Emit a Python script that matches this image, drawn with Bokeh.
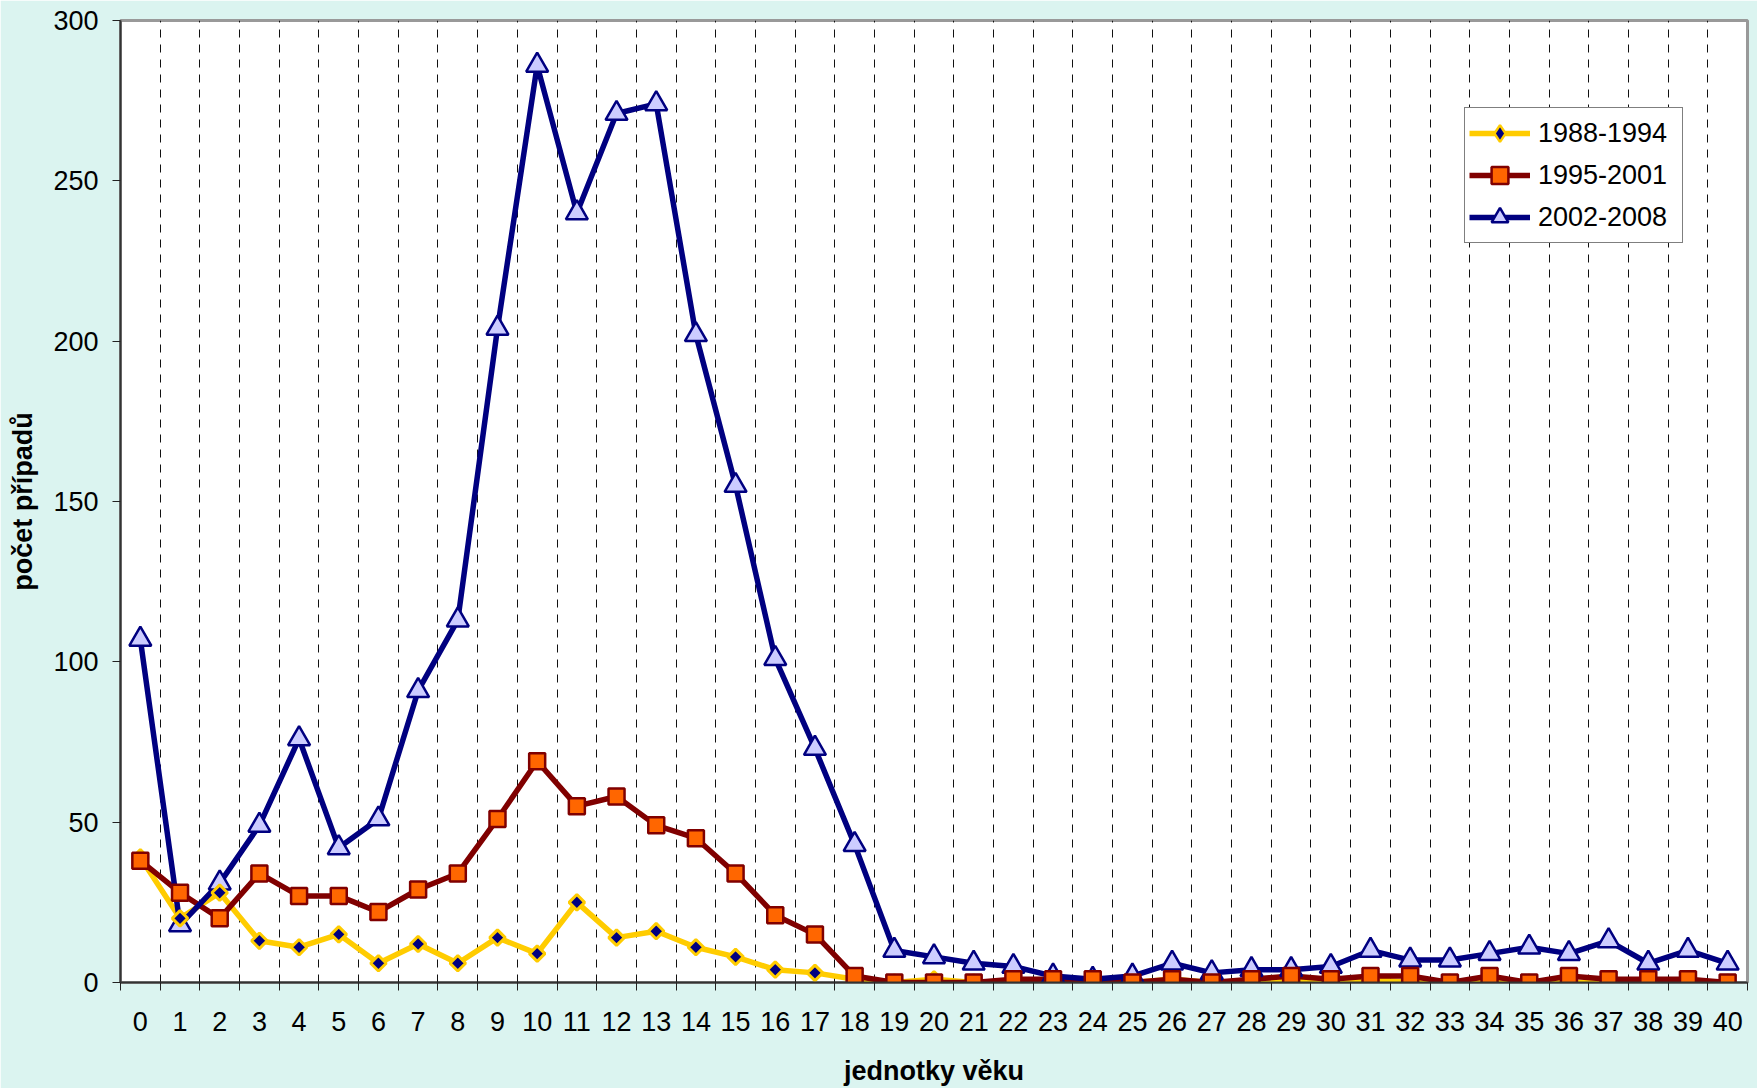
from bokeh.plotting import figure
from bokeh.models import Range1d, FixedTicker, Legend, LegendItem
from bokeh.embed import file_html
from bokeh.resources import INLINE
import numpy as np

# ---- data ----
ages = list(range(41))
s_1988_1994 = [39, 20, 28, 13, 11, 15, 6, 12, 6, 14, 9, 25, 14, 16, 11, 8, 4, 3, 1, 0,
               1, 0, 0, 1, 0, 0, 1, 0, 0, 1, 1, 1, 0, 0, 0, 0, 0, 0, 0, 0, 0]
s_1995_2001 = [38, 28, 20, 34, 27, 27, 22, 29, 34, 51, 69, 55, 58, 49, 45, 34, 21, 15, 2, 0,
               0, 0, 1, 1, 1, 0, 1, 0, 1, 2, 1, 2, 2, 0, 2, 0, 2, 1, 1, 1, 0]
s_2002_2008 = [107, 18, 31, 49, 76, 42, 51, 91, 113, 204, 286, 240, 271, 274, 202, 155, 101, 73, 43, 10,
               8, 6, 5, 2, 1, 2, 6, 3, 4, 4, 5, 10, 7, 7, 9, 11, 9, 13, 6, 10, 6]
series_labels = ["1988-1994", "1995-2001", "2002-2008"]
y_ticks = [0, 50, 100, 150, 200, 250, 300]
x_title = "jednotky věku"
y_title = "počet případů"

BG = "#DBF4F0"
FONT = "Liberation Sans"
bounds = [a - 0.5 for a in range(42)]

p = figure(width=1757, height=1088, output_backend="svg", toolbar_location=None,
           x_range=Range1d(-0.5, 40.5), y_range=Range1d(0, 300),
           min_border_left=120, min_border_right=10, min_border_top=20, min_border_bottom=106,
           background_fill_color="white", border_fill_color=BG)
p.outline_line_color = "#999999"
p.outline_line_width = 3

# axes
p.xaxis.ticker = FixedTicker(ticks=ages, minor_ticks=bounds)
p.xaxis.major_tick_out = 0
p.xaxis.major_tick_in = 0
p.xaxis.minor_tick_out = 8
p.xaxis.minor_tick_in = 0
p.xaxis.minor_tick_line_color = "#222222"
p.xaxis.minor_tick_line_width = 1
p.xaxis.axis_line_color = "#333333"
p.xaxis.axis_line_width = 2
p.xaxis.major_label_standoff = 21
p.xaxis.major_label_text_font = FONT
p.xaxis.major_label_text_font_size = "27px"
p.xaxis.major_label_text_color = "black"
p.xaxis.axis_label = x_title
p.xaxis.axis_label_text_font = FONT
p.xaxis.axis_label_text_font_size = "27px"
p.xaxis.axis_label_text_font_style = "bold"
p.xaxis.axis_label_text_color = "black"
p.xaxis.axis_label_standoff = 22

p.yaxis.ticker = FixedTicker(ticks=y_ticks, minor_ticks=[])
p.yaxis.major_tick_out = 8
p.yaxis.major_tick_in = 0
p.yaxis.major_tick_line_color = "#222222"
p.yaxis.axis_line_color = "#333333"
p.yaxis.axis_line_width = 2
p.yaxis.major_label_standoff = 14
p.yaxis.major_label_text_font = FONT
p.yaxis.major_label_text_font_size = "27px"
p.yaxis.major_label_text_color = "black"
p.yaxis.axis_label = y_title
p.yaxis.axis_label_text_font = FONT
p.yaxis.axis_label_text_font_size = "27px"
p.yaxis.axis_label_text_font_style = "bold"
p.yaxis.axis_label_text_color = "black"
p.yaxis.axis_label_standoff = 12

p.ygrid.visible = False
p.xgrid.ticker = FixedTicker(ticks=bounds[1:-1])
p.xgrid.grid_line_color = "#111111"
p.xgrid.grid_line_width = 1
p.xgrid.grid_line_dash = "8 7"

# series
l1 = p.line(ages, s_1988_1994, line_color="#FFCC00", line_width=5.5)
l2 = p.line(ages, s_1995_2001, line_color="#800000", line_width=5.5)
l3 = p.line(ages, s_2002_2008, line_color="#000080", line_width=5.5)
m3 = p.scatter(ages, s_2002_2008, marker="triangle", size=22, fill_color="#CCCCFF",
               line_color="#000080", line_width=2.5)
m1 = p.scatter(ages, s_1988_1994, marker="square", angle=np.pi / 4, size=11,
               fill_color="#000080", line_color="#FFCC00", line_width=3)
m2 = p.scatter(ages, s_1995_2001, marker="square", size=16, fill_color="#FF6600",
               line_color="#800000", line_width=2.5)
# legend-only diamond (no visible point)
m1_leg = p.scatter([0], [np.nan], marker="diamond", size=18,
                   fill_color="#000080", line_color="#FFCC00", line_width=2.5)

legend = Legend(items=[
    LegendItem(label=series_labels[0], renderers=[l1, m1_leg]),
    LegendItem(label=series_labels[1], renderers=[l2, m2]),
    LegendItem(label=series_labels[2], renderers=[l3, m3]),
], location=(1344, 739))
legend.glyph_width = 61
legend.glyph_height = 42
legend.label_height = 42
legend.label_width = 140
legend.spacing = 0
legend.padding = 4
legend.label_standoff = 8
legend.label_text_font = FONT
legend.label_text_font_size = "27px"
legend.label_text_color = "black"
legend.border_line_color = "black"
legend.border_line_width = 1
legend.background_fill_color = "white"
legend.background_fill_alpha = 1
p.add_layout(legend, "center")

open("out.html", "w").write(file_html(p, INLINE))
